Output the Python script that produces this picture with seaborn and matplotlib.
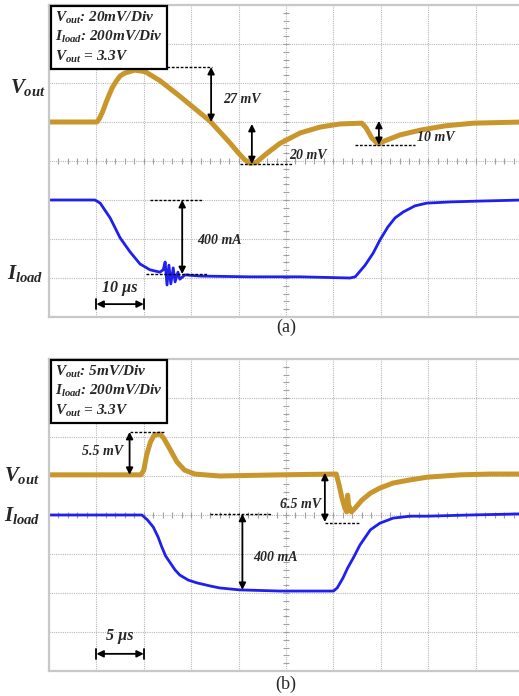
import numpy as np
import seaborn as sns
import matplotlib.pyplot as plt

sns.set_style("white")
plt.rcParams['font.family'] = ['Liberation Serif', 'DejaVu Serif']
plt.rcParams['mathtext.fontset'] = 'custom'
plt.rcParams['mathtext.rm'] = 'Liberation Serif:bold:italic'
plt.rcParams['mathtext.it'] = 'Liberation Serif:bold:italic'
plt.rcParams['mathtext.bf'] = 'Liberation Serif:bold:italic'

VOUT_C = "#C9962C"
ILOAD_C = "#1F1FEF"

# ---- panel (a): time in us (10 us/div), traces in screen divisions ----
a_t_vout = [0, 10.1, 10.6, 11.3, 12.0, 12.7, 13.3, 14.2, 15.0, 15.9, 16.7, 18.1, 20.3,
            23.4, 27.6, 30.8, 34.0, 38.2, 40.0, 41.3, 42.4, 43.7, 45.6, 48.7, 53.0,
            57.2, 61.4, 66.0, 66.9, 68.1, 69.4, 70.7, 74.1, 78.3, 83.5, 89.5, 100]
a_vout = [1.00, 1.00, 1.08, 1.26, 1.49, 1.70, 1.87, 2.05, 2.18, 2.25, 2.28, 2.33, 2.29,
          2.06, 1.66, 1.34, 1.02, 0.46, 0.20, 0.03, -0.06, -0.04, 0.16, 0.45, 0.72,
          0.87, 0.95, 0.97, 0.85, 0.59, 0.44, 0.51, 0.67, 0.79, 0.90, 0.97, 1.00]
a_t_iload = [0, 9.7, 10.8, 12.9, 15.0, 17.1, 19.2, 21.3, 23.4, 24.1, 24.5, 24.9, 25.3,
             25.7, 26.2, 26.6, 27.2, 27.6, 28.7, 31.9, 42.4, 53.0, 63.5, 64.6, 66.7,
             68.4, 69.8, 71.5, 73.0, 74.7, 77.2, 79.7, 84.6, 90.1, 100]
a_iload = [-1.00, -1.00, -1.08, -1.46, -1.97, -2.33, -2.64, -2.79, -2.85, -2.79, -2.59,
           -3.18, -2.67, -3.15, -2.74, -3.10, -2.85, -3.03, -2.92, -2.95, -2.97, -2.97,
           -3.00, -2.97, -2.67, -2.36, -2.03, -1.69, -1.46, -1.31, -1.15, -1.08, -1.05,
           -1.03, -1.00]

# ---- panel (b): time in us (5 us/div) ----
b_t_vout = [0, 9.7, 10.0, 10.3, 10.7, 11.1, 11.7, 12.1, 12.8, 13.5, 14.3, 15.4, 18.0,
            24.4, 30.3, 30.6, 30.9, 31.2, 31.4, 31.5, 31.6, 31.9, 32.3, 33.0, 33.9,
            34.9, 36.3, 38.1, 39.9, 43.4, 46.5, 50]
b_vout = [1.03, 1.03, 1.15, 1.54, 1.87, 2.05, 2.08, 1.97, 1.67, 1.36, 1.15, 1.05, 1.00,
          1.03, 1.05, 0.77, 0.44, 0.18, 0.08, 0.51, 0.26, 0.08, 0.18, 0.38, 0.56,
          0.69, 0.82, 0.90, 0.97, 1.03, 1.05, 1.05]
b_t_iload = [0, 9.8, 10.4, 11.0, 11.5, 11.9, 12.3, 12.8, 13.3, 13.8, 14.7, 15.6, 17.0,
             18.0, 20.1, 24.4, 30.0, 30.4, 31.0, 31.5, 32.1, 32.8, 33.9, 34.9, 36.3,
             38.1, 39.9, 44.4, 50]
b_iload = [0, 0, -0.13, -0.31, -0.56, -0.82, -1.05, -1.23, -1.41, -1.54, -1.67, -1.74,
           -1.82, -1.87, -1.92, -1.95, -1.95, -1.87, -1.62, -1.36, -1.10, -0.77, -0.38,
           -0.21, -0.08, -0.03, -0.03, 0, 0.03]

a_box = r"$V_{out}$: 20mV/Div" + "\n" + r"$I_{load}$: 200mV/Div" + "\n" + r"$V_{out}$ = 3.3V"
b_box = r"$V_{out}$: 5mV/Div" + "\n" + r"$I_{load}$: 200mV/Div" + "\n" + r"$V_{out}$ = 3.3V"

W, H = 519, 696
fig = plt.figure(figsize=(W / 100, H / 100), dpi=100)


def px_box(x0, y0, x1, y1):
    return [x0 / W, 1 - y1 / H, (x1 - x0) / W, (y1 - y0) / H]


def scope(ax, tmax):
    ax.set_xlim(0, tmax)
    ax.set_ylim(-4, 4)
    ax.set_xticks(np.linspace(0, tmax, 11))
    ax.set_yticks(np.arange(-4, 5, 1))
    ax.set_xticklabels([])
    ax.set_yticklabels([])
    ax.tick_params(length=0)
    ax.grid(True, ls=(0, (1, 1)), color="#b8b8b8", lw=0.8)
    for s in ax.spines.values():
        s.set_color("#c8c8c8")
        s.set_linewidth(1.6)
    # small ticks on the centre cross
    xt = np.linspace(0, tmax, 51)
    ax.plot(xt, np.zeros_like(xt), ls="none", marker="|", ms=4, color="#a0a0a0", mew=0.8)
    yt = np.arange(-4, 4.01, 0.2)
    ax.plot(np.full_like(yt, tmax / 2), yt, ls="none", marker="_", ms=4, color="#a0a0a0", mew=0.8)


def dash(ax, x0, x1, y):
    ax.plot([x0, x1], [y, y], color="black", ls=(0, (2, 1.2)), lw=1)


def arrow(ax, x0, y0, x1, y1):
    ax.annotate("", xy=(x1, y1), xytext=(x0, y0),
                arrowprops=dict(arrowstyle="<|-|>", color="black", lw=1.3,
                                shrinkA=0, shrinkB=0, mutation_scale=10))


def label(ax, x, y, s, ha="left", size=10):
    ax.text(x, y, s, ha=ha, va="center", fontsize=size, fontweight="bold", fontstyle="italic")


def scale_bar(ax, x0, x1, y, s, ty):
    arrow(ax, x0, y, x1, y)
    ax.plot([x0, x0], [y - 0.13, y + 0.13], color="black", lw=1.3)
    ax.plot([x1, x1], [y - 0.13, y + 0.13], color="black", lw=1.3)
    label(ax, (x0 + x1) / 2, ty, s, ha="center", size=11.5)


def info_box(ax, s):
    ax.text(0.013, 0.985, s, transform=ax.transAxes, ha="left", va="top", fontsize=11,
            fontweight="bold", fontstyle="italic", linespacing=1.3,
            bbox=dict(boxstyle="square,pad=0.25", fc="white", ec="black", lw=1.6), zorder=5)


# panel (a)
ax_a = fig.add_axes(px_box(49, 5, 523, 317))
scope(ax_a, 100)
sns.lineplot(x=a_t_vout, y=a_vout, ax=ax_a, color=VOUT_C, linewidth=3.6, sort=False)
sns.lineplot(x=a_t_iload, y=a_iload, ax=ax_a, color=ILOAD_C, linewidth=2.0, sort=False)
dash(ax_a, 23.0, 34.4, 2.41)
arrow(ax_a, 34.2, 2.41, 34.2, 1.0)
label(ax_a, 36.8, 1.58, "27 mV")
dash(ax_a, 40.3, 51.3, -0.08)
arrow(ax_a, 42.8, 0.95, 42.8, -0.08)
label(ax_a, 50.6, 0.15, "20 mV")
dash(ax_a, 64.6, 77.2, 0.41)
arrow(ax_a, 69.6, 1.03, 69.6, 0.41)
label(ax_a, 77.6, 0.60, "10 mV")
dash(ax_a, 21.3, 32.5, -1.0)
dash(ax_a, 20.5, 33.3, -2.90)
arrow(ax_a, 28.1, -1.0, 28.1, -2.90)
label(ax_a, 31.2, -2.03, "400 mA")
scale_bar(ax_a, 10, 20, -3.67, "10 µs", -3.25)
info_box(ax_a, a_box)

# panel (b)
ax_b = fig.add_axes(px_box(49, 359, 523, 671))
scope(ax_b, 50)
sns.lineplot(x=b_t_vout, y=b_vout, ax=ax_b, color=VOUT_C, linewidth=3.6, sort=False)
sns.lineplot(x=b_t_iload, y=b_iload, ax=ax_b, color=ILOAD_C, linewidth=2.0, sort=False)
dash(ax_b, 8.5, 12.2, 2.13)
arrow(ax_b, 8.5, 2.13, 8.5, 1.03)
label(ax_b, 7.8, 1.64, "5.5 mV", ha="right")
dash(ax_b, 17.0, 23.5, 0.03)
arrow(ax_b, 20.4, 0.03, 20.4, -1.92)
label(ax_b, 21.5, -1.08, "400 mA")
arrow(ax_b, 29.1, 1.08, 29.1, -0.18)
dash(ax_b, 29.1, 32.8, -0.21)
label(ax_b, 28.7, 0.26, "6.5 mV", ha="right")
scale_bar(ax_b, 5, 10, -3.56, "5 µs", -3.10)
info_box(ax_b, b_box)

# side labels and captions
side = dict(ha="center", va="center", fontsize=15, fontweight="bold", fontstyle="italic")
fig.text(28 / W, 1 - 88 / H, r"$V_{out}$", **side)
fig.text(25 / W, 1 - 274 / H, r"$I_{load}$", **side)
fig.text(22 / W, 1 - 475 / H, r"$V_{out}$", **side)
fig.text(22 / W, 1 - 515 / H, r"$I_{load}$", **side)
fig.text(286 / W, 1 - 327 / H, "(a)", ha="center", va="center", fontsize=13)
fig.text(286 / W, 1 - 684 / H, "(b)", ha="center", va="center", fontsize=13)

plt.savefig("out.png", dpi=100)
